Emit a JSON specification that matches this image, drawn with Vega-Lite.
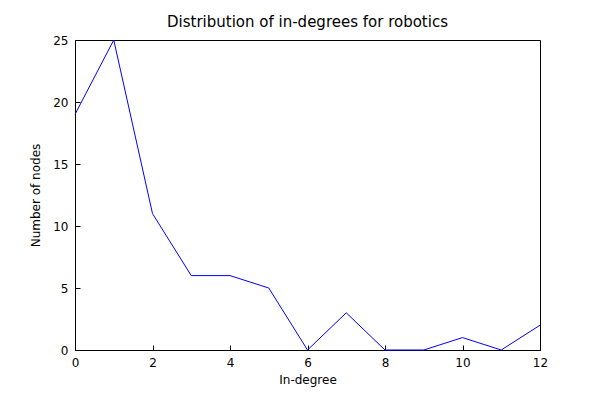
{
  "$schema": "https://vega.github.io/schema/vega-lite/v6.json",
  "width": 465,
  "height": 310,
  "autosize": "none",
  "padding": {"left": 75, "top": 40, "right": 60, "bottom": 50},
  "background": "white",
  "title": {"text": "Distribution of in-degrees for robotics", "font": "DejaVu Sans", "fontSize": 15, "fontWeight": "normal", "offset": 4},
  "config": {
    "view": {"stroke": "black", "strokeWidth": 1},
    "axis": {"labelFont": "DejaVu Sans", "titleFont": "DejaVu Sans", "labelFontSize": 12, "titleFontSize": 12, "titleFontWeight": "normal", "grid": false, "domain": false, "tickColor": "black", "tickSize": -5, "labelFlush": false, "labelColor": "black"}
  },
  "data": {"values": [
    {"d": 0, "n": 19}, {"d": 1, "n": 25}, {"d": 2, "n": 11}, {"d": 3, "n": 6},
    {"d": 4, "n": 6}, {"d": 5, "n": 5}, {"d": 6, "n": 0}, {"d": 7, "n": 3},
    {"d": 8, "n": 0}, {"d": 9, "n": 0}, {"d": 10, "n": 1}, {"d": 11, "n": 0}, {"d": 12, "n": 2}
  ]},
  "mark": {"type": "line", "color": "blue", "strokeWidth": 1},
  "encoding": {
    "x": {"field": "d", "type": "quantitative", "title": "In-degree", "scale": {"domain": [0, 12], "nice": false}, "axis": {"values": [0, 2, 4, 6, 8, 10, 12], "labelPadding": 12, "titlePadding": 6}},
    "y": {"field": "n", "type": "quantitative", "title": "Number of nodes", "scale": {"domain": [0, 25], "nice": false}, "axis": {"values": [0, 5, 10, 15, 20, 25], "labelPadding": 12, "titlePadding": 10}}
  }
}
